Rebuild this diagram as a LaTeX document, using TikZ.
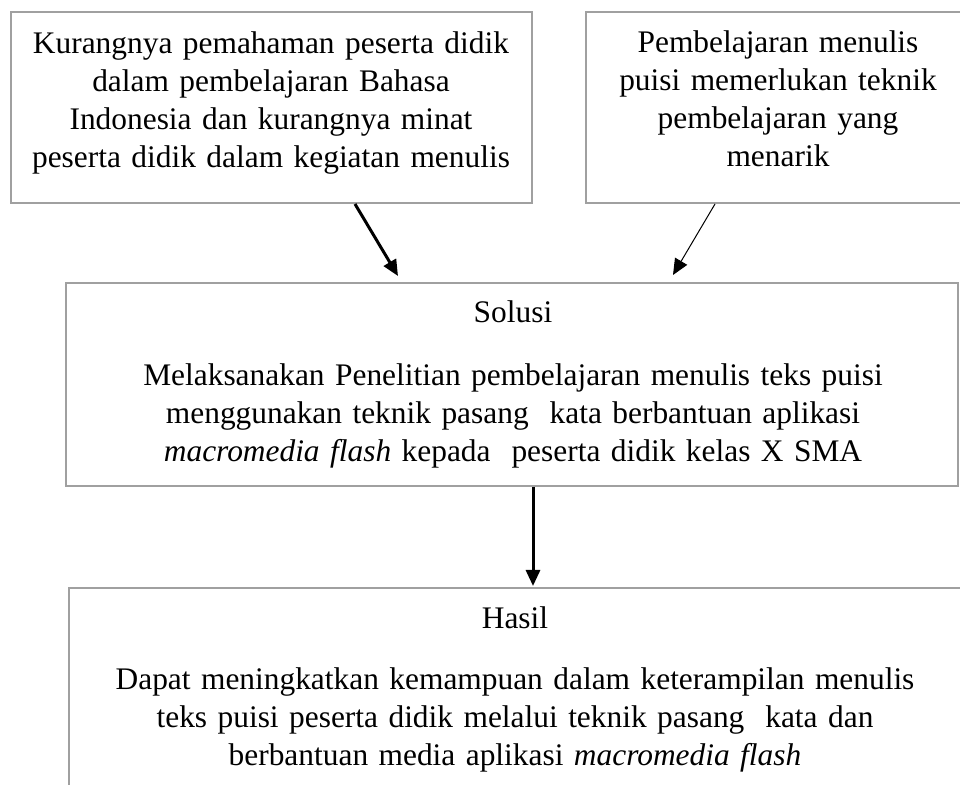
\documentclass[tikz,border=0pt]{standalone}
\usepackage{fontspec}
\setmainfont{Liberation Serif}
\usetikzlibrary{arrows.meta,calc}
\definecolor{boxgray}{RGB}{160,160,160}

\begin{document}
\begin{tikzpicture}[x=0.5pt,y=-0.5pt,
  box/.style={draw=boxgray,line width=1pt,rectangle,inner sep=0pt},
  txt/.style={inner sep=0pt,align=center,anchor=base,text width=#1,font=\fontsize{15.7pt}{19pt}\selectfont},
  thickarrow/.style={-{Triangle[length=8pt,width=7pt]},line width=1.5pt},
  thinarrow/.style={-{Triangle[length=8pt,width=7pt]},line width=0.5pt}]

\useasboundingbox (0,0) rectangle (960,785);
\clip (0,0) rectangle (960,785);

%Draw the boxes
\node[box,minimum width=260.5pt,minimum height=95.5pt] (masalah) at (271.5,107.5) {};
\node[box,minimum width=192pt,minimum height=95.5pt] (kebutuhan) at (778,107.5) {};
\node[box,minimum width=446pt,minimum height=101.5pt] (solusi) at (512,384.5) {};
\node[box,minimum width=450.5pt,minimum height=106pt] (hasil) at (519.5,694) {};

%Texts
\node[txt=255pt] (tmasalah) at (271,54) {Kurangnya pemahaman peserta didik\\
  dalam pembelajaran Bahasa\\ Indonesia dan kurangnya minat\\
  peserta didik dalam kegiatan menulis};
\node[txt=200pt] (tkebutuhan) at (778,53) {Pembelajaran menulis\\
  puisi memerlukan teknik\\ pembelajaran yang\\ menarik};
\node[txt=100pt] (jsolusi) at (513,323) {Solusi};
\node[txt=440pt] (tsolusi) at (513,386) {Melaksanakan Penelitian pembelajaran menulis teks puisi\\
  menggunakan teknik pasang~ kata berbantuan aplikasi\\
  \textit{macromedia flash} kepada~ peserta didik kelas X SMA};
\node[txt=100pt] (jhasil) at (515,629) {Hasil};
\node[txt=440pt] (thasil) at (515,690) {Dapat meningkatkan kemampuan dalam keterampilan menulis\\
  teks puisi peserta didik melalui teknik pasang~ kata dan\\
  berbantuan media aplikasi \textit{macromedia flash}};

%Arrows
\draw[thickarrow] ($(masalah.south)+(83.5,0)$) -- ($(solusi.north)+(-114,-6)$);
\draw[thinarrow] ($(kebutuhan.south)+(-63,0)$) -- ($(solusi.north)+(161,-7)$);
\draw[thickarrow] ($(solusi.south)+(21,0)$) -- ($(hasil.north)+(13.5,-1)$);

\end{tikzpicture}
\end{document}
